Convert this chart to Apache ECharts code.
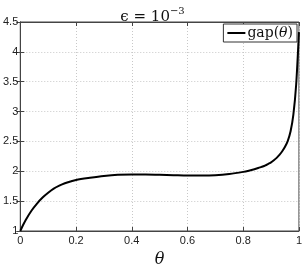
<!DOCTYPE html>
<html><head><meta charset="utf-8">
<script src="https://cdn.jsdelivr.net/npm/echarts@6/dist/echarts.min.js"></script>
<style>html,body{margin:0;padding:0;background:#fff}#c{width:305px;height:273px}</style>
</head><body><div id="c"></div>
<script>
const theta = [0, 0.01, 0.02, 0.04, 0.06, 0.08, 0.1, 0.12, 0.14, 0.16, 0.18, 0.2, 0.25, 0.3, 0.35, 0.4, 0.45, 0.5, 0.55, 0.6, 0.65, 0.7, 0.75, 0.8, 0.82, 0.84, 0.86, 0.87, 0.88, 0.89, 0.9, 0.91, 0.92, 0.93, 0.94, 0.95, 0.96, 0.97, 0.98, 0.99, 1.0];
const gap   = [1, 1.10, 1.19, 1.34, 1.46, 1.56, 1.64, 1.71, 1.76, 1.80, 1.83, 1.855, 1.89, 1.92, 1.94, 1.945, 1.945, 1.94, 1.935, 1.93, 1.93, 1.935, 1.955, 1.99, 2.01, 2.035, 2.065, 2.08, 2.10, 2.125, 2.15, 2.185, 2.225, 2.275, 2.335, 2.41, 2.51, 2.67, 2.95, 3.45, 4.33];
const xTicks = [0, 0.2, 0.4, 0.6, 0.8, 1];
const yTicks = [1, 1.5, 2, 2.5, 3, 3.5, 4, 4.5];
const seriesName = 'gap(θ)';

const chart = echarts.init(document.getElementById('c'), null, {renderer: 'canvas'});
const sans = 'Liberation Sans, Arial, sans-serif';
const serif = 'DejaVu Serif, Liberation Serif, serif';
const tickStyle = {inside: true, length: 4, lineStyle: {color: '#444', width: 1}};
const split = {show: true, lineStyle: {color: '#c8c8c8', type: [1, 2], width: 1}};
const lbl = {fontFamily: sans, fontSize: 11, color: '#222'};
chart.setOption({
  animation: false,
  title: {
    text: '{a|ϵ = 10}{s|−3}',
    left: 'center', top: 1,
    textStyle: {fontWeight: 'normal', rich: {
      a: {fontFamily: serif, fontSize: 15, fontWeight: 'normal', color: '#111', verticalAlign: 'bottom', lineHeight: 19},
      s: {fontFamily: serif, fontSize: 10, fontWeight: 'normal', color: '#111', verticalAlign: 'top', lineHeight: 19, padding: [0, 0, 8, 0]}
    }}
  },
  legend: {
    right: 8, top: 24,
    padding: [2, 4, 2, 4],
    borderColor: '#333', borderWidth: 1, borderRadius: 0,
    backgroundColor: '#fff',
    icon: 'rect', itemWidth: 18, itemHeight: 2, itemGap: 4,
    data: [seriesName],
    formatter: () => '{a|gap(}{b|θ}{a|)}',
    textStyle: {padding: [0, 0, 0, -3], rich: {
      a: {fontFamily: serif, fontSize: 14, color: '#111'},
      b: {fontFamily: serif, fontSize: 14, fontStyle: 'italic', color: '#111'}
    }}
  },
  grid: {left: 15, right: 6, top: 22, bottom: 27, show: true, borderColor: '#444', borderWidth: 1, backgroundColor: '#fff'},
  xAxis: [{
    type: 'value', min: 0, max: 1, interval: 0.2, position: 'bottom',
    axisLine: {show: true, lineStyle: {color: '#444'}},
    axisTick: tickStyle, splitLine: split,
    axisLabel: Object.assign({margin: 4, formatter: v => xTicks.includes(+v.toFixed(1)) ? String(+v.toFixed(1)) : ''}, lbl),
    name: 'θ', nameLocation: 'middle', nameGap: 21,
    nameTextStyle: {fontFamily: serif, fontSize: 16, fontStyle: 'italic', color: '#111'}
  }, {
    type: 'value', min: 0, max: 1, interval: 0.2, position: 'top',
    axisLine: {show: true, lineStyle: {color: '#444'}},
    axisTick: tickStyle, splitLine: {show: false}, axisLabel: {show: false}
  }],
  yAxis: [{
    type: 'value', min: 1, max: 4.5, interval: 0.5, position: 'left',
    axisLine: {show: true, lineStyle: {color: '#444'}},
    axisTick: tickStyle, splitLine: split,
    axisLabel: Object.assign({margin: 2, formatter: v => String(+v.toFixed(1))}, lbl)
  }, {
    type: 'value', min: 1, max: 4.5, interval: 0.5, position: 'right',
    axisLine: {show: true, lineStyle: {color: '#444'}},
    axisTick: tickStyle, splitLine: {show: false}, axisLabel: {show: false}
  }],
  series: [{
    name: seriesName, type: 'line', xAxisIndex: 0, yAxisIndex: 0,
    data: theta.map((t, i) => [t, gap[i]]),
    showSymbol: false, symbol: 'none', smooth: 0.3,
    lineStyle: {color: '#000', width: 2},
    itemStyle: {color: '#000'}, z: 1
  }]
});
</script></body></html>
